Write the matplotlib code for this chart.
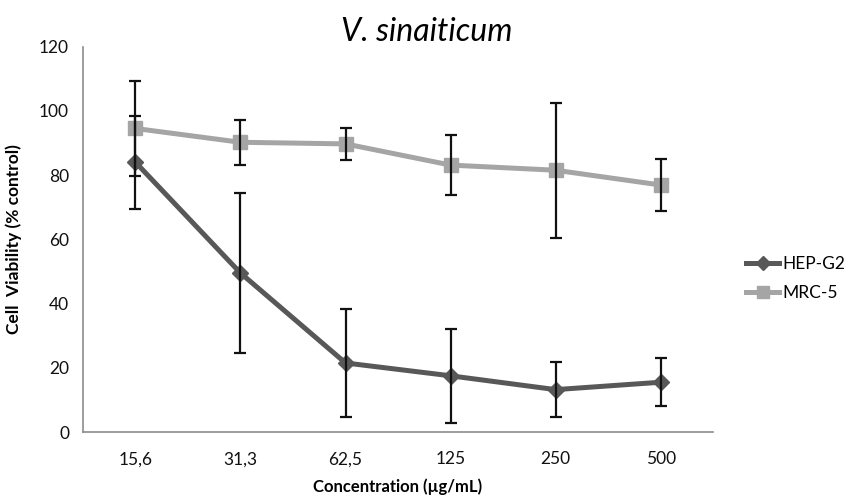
import matplotlib.pyplot as plt
from matplotlib.lines import Line2D

plt.rcParams['font.family'] = ['Lato', 'DejaVu Sans']

concentrations = ['15,6', '31,3', '62,5', '125', '250', '500']
hep_g2 = [84.0, 49.5, 21.5, 17.5, 13.2, 15.5]
hep_g2_err = [14.5, 25.0, 16.8, 14.6, 8.6, 7.5]
mrc_5 = [94.5, 90.2, 89.7, 83.1, 81.5, 76.9]
mrc_5_err = [14.7, 7.0, 4.9, 9.4, 21.0, 8.0]

dark = '#585858'
light = '#a5a5a5'

fig = plt.figure(figsize=(8.46, 4.98), dpi=100)
ax = fig.add_axes([0.098, 0.1325, 0.745, 0.774])

x = list(range(len(concentrations)))

ax.plot(x, hep_g2, color=dark, linewidth=3.6, marker='D', markersize=8, zorder=2)
ax.plot(x, mrc_5, color=light, linewidth=3.6, marker='s', markersize=10, zorder=2)
ax.errorbar(x, hep_g2, yerr=hep_g2_err, fmt='none', ecolor='#111111',
            elinewidth=1.6, capsize=4, capthick=1.6, zorder=3)
ax.errorbar(x, mrc_5, yerr=mrc_5_err, fmt='none', ecolor='#111111',
            elinewidth=1.6, capsize=4, capthick=1.6, zorder=3)

ax.set_xlim(-0.5, len(concentrations) - 0.5)
ax.set_ylim(0, 120)
ax.set_yticks(range(0, 121, 20))
ax.set_xticks(x)
ax.set_xticklabels(concentrations)
ax.tick_params(length=0, labelsize=12.5, pad=10, colors='#111111')
ax.tick_params(axis='x', pad=14)

for side in ['top', 'right']:
    ax.spines[side].set_visible(False)
for side in ['left', 'bottom']:
    ax.spines[side].set_color('#8c8c8c')
    ax.spines[side].set_linewidth(1.2)

ax.set_ylabel('Cell  Viability (% control)', fontsize=12.5, fontweight='bold', labelpad=12)
ax.set_xlabel('Concentration (µg/mL)', fontsize=12, fontweight='bold', labelpad=8)
ax.set_title('V. sinaiticum', fontsize=23, style='italic', pad=2, x=0.545)

handles = [
    Line2D([], [], color=dark, linewidth=3.6, marker='D', markersize=7),
    Line2D([], [], color=light, linewidth=3.6, marker='s', markersize=8),
]
fig.legend(handles, ['HEP-G2', 'MRC-5'], loc='center left', bbox_to_anchor=(0.874, 0.44),
           frameon=False, fontsize=12.5, handlelength=1.9, handletextpad=0.15,
           labelspacing=0.75, borderaxespad=0)

fig.savefig('out.png', dpi=100)
